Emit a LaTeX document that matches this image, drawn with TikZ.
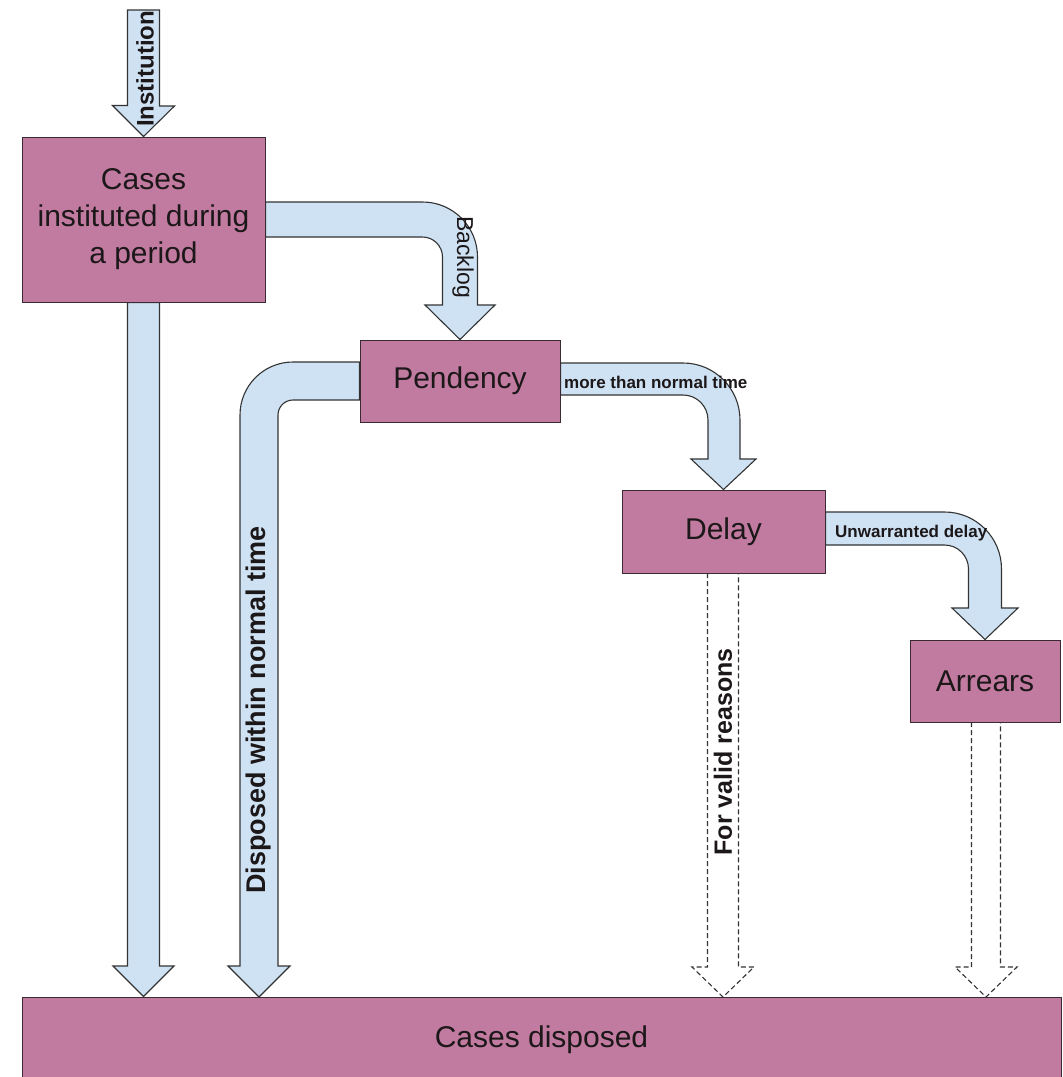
\documentclass[tikz,border=0pt]{standalone}
\usepackage{fontspec}
\setmainfont{Liberation Sans}
\usetikzlibrary{calc}
\pgfdeclarelayer{background}
\pgfsetlayers{background,main}
\definecolor{boxfill}{HTML}{C27BA0}
\definecolor{boxline}{HTML}{3A2A33}
\definecolor{arrfill}{HTML}{CFE2F3}
\definecolor{arrline}{HTML}{333333}
\definecolor{txt}{HTML}{1C1719}
\tikzset{
  box/.style={draw=boxline, fill=boxfill, line width=1pt, inner sep=0pt, align=center,
    text=txt, font=\fontsize{30}{37}\selectfont},
  barrow/.style={draw=arrline, fill=arrfill, line width=1.1pt, line join=miter},
  darrow/.style={draw=arrline, fill=white, line width=1.1pt, dash pattern=on 5pt off 3pt},
  vlab/.style={font=\bfseries\fontsize{25}{30}\selectfont, text=txt, inner sep=0pt},
  hlab/.style={font=\bfseries\fontsize{17}{20}\selectfont, text=txt, inner sep=0pt, anchor=west},
}
\begin{document}
\begin{tikzpicture}[x=1pt, y=-1pt]
\useasboundingbox (0,0) rectangle (1063,1077);

% --- boxes ---
\node[box, minimum width=243pt, minimum height=165pt] (inst) at (143.5,219.5)
  {Cases\\instituted during\\a period};
\node[box, minimum width=200pt, minimum height=82pt] (pend) at (460,381) {Pendency};
\node[box, minimum width=203pt, minimum height=83pt] (delay) at (723.5,531.5) {Delay};
\node[box, minimum width=150pt, minimum height=82pt] (arr) at (985,681) {Arrears};
\node[box, minimum width=1039pt, minimum height=85pt] (disp) at (541.5,1039.5) {Cases disposed};
\coordinate (src) at (143.5,10);

% --- arrows (behind the boxes) ---
\begin{pgfonlayer}{background}
% Institution arrow: src -> inst
\draw[barrow] (inst.north) -- ++(-31,-31) -- ++(15,0) -- ($(src)+(-16,0)$) -- ($(src)+(16,0)$)
  -- ++(0,96) -- ++(15,0) -- cycle;

% long left arrow: inst -> disp
\draw[barrow] ($(inst.south)+(-16,0)$) -- (127.5,966) -- (113,966) -- (inst.south |- disp.north)
  -- (174,966) -- (159.5,966) -- ($(inst.south)+(16,0)$) -- cycle;

% Backlog arrow: inst -> pend
\draw[barrow] ($(inst.east)+(0,-17.5)$) -- (422.5,202) .. controls (452.9,202) and (477.5,226.6) .. (477.5,257)
  -- (477.5,305) -- (495,305) -- (pend.north) -- (425,305) -- (442.5,305) -- (442.5,257)
  .. controls (442.5,246) and (433.5,237) .. (422.5,237) -- ($(inst.east)+(0,17.5)$) -- cycle;

% Disposed within normal time arrow: pend -> disp
\draw[barrow] (pend.west |- 0,362) -- (293,362) .. controls (263.7,362) and (240,385.7) .. (240,415)
  -- (240,966) -- (228,966) -- (259,997) -- (290,966) -- (278,966) -- (278,415)
  .. controls (278,406.7) and (284.7,400) .. (293,400) -- (pend.west |- 0,400) -- cycle;

% more than normal time arrow: pend -> delay
\draw[barrow] (pend.east |- 0,363) -- (683,363) .. controls (714.5,363) and (740,388.5) .. (740,420)
  -- (740,459) -- (756,459) -- (delay.north) -- (691,459) -- (708,459) -- (708,420)
  .. controls (708,406.2) and (696.8,395) .. (683,395) -- (pend.east |- 0,395) -- cycle;

% Unwarranted delay arrow: delay -> arr
\draw[barrow] (delay.east |- 0,512) -- (944.5,512) .. controls (976,512) and (1001.5,537.5) .. (1001.5,569)
  -- (1001.5,608) -- (1018,608) -- (arr.north) -- (952,608) -- (968.5,608) -- (968.5,569)
  .. controls (968.5,555.7) and (957.8,545) .. (944.5,545) -- (delay.east |- 0,545) -- cycle;

% For valid reasons dashed arrow: delay -> disp
\draw[darrow] (707.5,573) -- (707.5,967) -- (692,967) -- (723,997) -- (754,967) -- (738.5,967) -- (738.5,573);

% Arrears dashed arrow: arr -> disp
\draw[darrow] (971.5,722) -- (971.5,967) -- (955,967) -- (986,997) -- (1017,967) -- (1000.5,967) -- (1000.5,722);
\end{pgfonlayer}

% --- labels ---
\node[vlab, rotate=90, font=\bfseries\fontsize{24}{28}\selectfont] (lInst) at (145,69) {Institution};
\node[inner sep=0pt, rotate=-90, text=txt, font=\fontsize{23}{27}\selectfont] (lBack) at (463,257) {Backlog};
\node[hlab] (lMore) at (564,382) {more than normal time};
\node[hlab] (lUnw) at (835,533) {Unwarranted delay};
\node[vlab, rotate=90, font=\bfseries\fontsize{27}{32}\selectfont] (lDisp) at (259,710) {Disposed within normal time};
\node[vlab, rotate=90] (lValid) at (723,752) {For valid reasons};
\end{tikzpicture}
\end{document}
